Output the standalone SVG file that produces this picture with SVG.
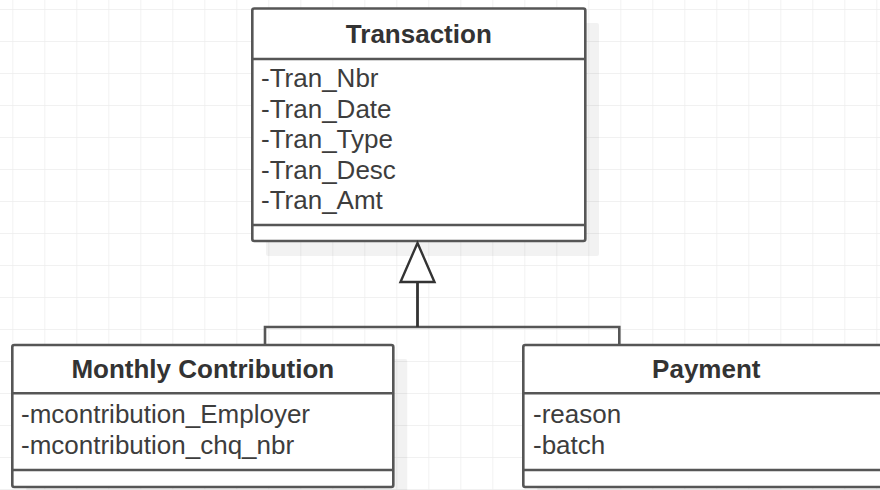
<svg xmlns="http://www.w3.org/2000/svg" width="880" height="490" viewBox="0 0 880 490">
  <style>
    .box { fill: #ffffff; stroke: #565656; stroke-width: 2.6; }
    .sep { stroke: #565656; stroke-width: 2.6; fill: none; }
    .shadow { fill: #000000; fill-opacity: 0.05; }
    .title { font-family: "Liberation Sans", Arial, sans-serif; font-size: 26px; font-weight: bold; fill: #333333; text-anchor: middle; }
    .attr { font-family: "Liberation Sans", Arial, sans-serif; font-size: 26px; fill: #3d3d3d; }
    .conn { stroke: #333333; stroke-width: 2.8; fill: none; }
    .link { stroke: #565656; stroke-width: 2.6; fill: none; }
  </style>
  <defs>
    <pattern id="grid" x="12.3" y="9" width="32" height="32" patternUnits="userSpaceOnUse">
      <path d="M 0 0 H 32 M 0 0 V 32" stroke="#ededed" stroke-width="1.4" fill="none"/>
    </pattern>
  </defs>
  <rect x="0" y="0" width="880" height="490" fill="#ffffff"/>
  <rect x="0" y="0" width="880" height="490" fill="url(#grid)"/>

  <g id="transaction">
    <rect class="shadow" x="266" y="23" width="333" height="233" rx="2"/>
    <rect class="box" x="252.3" y="8.5" width="333" height="232.5" rx="2"/>
    <line class="sep" x1="252.3" y1="59" x2="585.3" y2="59"/>
    <line class="sep" x1="252.3" y1="225" x2="585.3" y2="225"/>
    <text class="title" x="418.8" y="42.5">Transaction</text>
    <text class="attr" x="261" y="87.3">-Tran_Nbr</text>
    <text class="attr" x="261" y="117.8">-Tran_Date</text>
    <text class="attr" x="261" y="148.3">-Tran_Type</text>
    <text class="attr" x="261" y="178.8">-Tran_Desc</text>
    <text class="attr" x="261" y="209.3">-Tran_Amt</text>
  </g>

  <g id="monthly-contribution">
    <rect class="shadow" x="26.3" y="359" width="381" height="150" rx="2"/>
    <rect class="box" x="12.3" y="345" width="381" height="142" rx="2"/>
    <line class="sep" x1="12.3" y1="393.3" x2="393.3" y2="393.3"/>
    <line class="sep" x1="12.3" y1="470" x2="393.3" y2="470"/>
    <text class="title" x="202.8" y="378">Monthly Contribution</text>
    <text class="attr" x="21" y="423">-mcontribution_Employer</text>
    <text class="attr" x="21" y="453.5">-mcontribution_chq_nbr</text>
  </g>

  <g id="payment">
    <rect class="shadow" x="537.3" y="359" width="366" height="150" rx="2"/>
    <rect class="box" x="523.3" y="345" width="366" height="142" rx="2"/>
    <line class="sep" x1="523.3" y1="393.3" x2="889.3" y2="393.3"/>
    <line class="sep" x1="523.3" y1="470" x2="889.3" y2="470"/>
    <text class="title" x="706.3" y="378">Payment</text>
    <text class="attr" x="533" y="423">-reason</text>
    <text class="attr" x="533" y="453.5">-batch</text>
  </g>

  <g id="connectors">
    <polyline class="link" points="265,345 265,327 619.3,327 619.3,345"/>
    <line class="conn" x1="417.5" y1="327" x2="417.5" y2="282"/>
    <polygon points="417.5,243 434.5,282 400.5,282" fill="#ffffff" stroke="#333333" stroke-width="2.4" stroke-linejoin="miter"/>
  </g>
</svg>
